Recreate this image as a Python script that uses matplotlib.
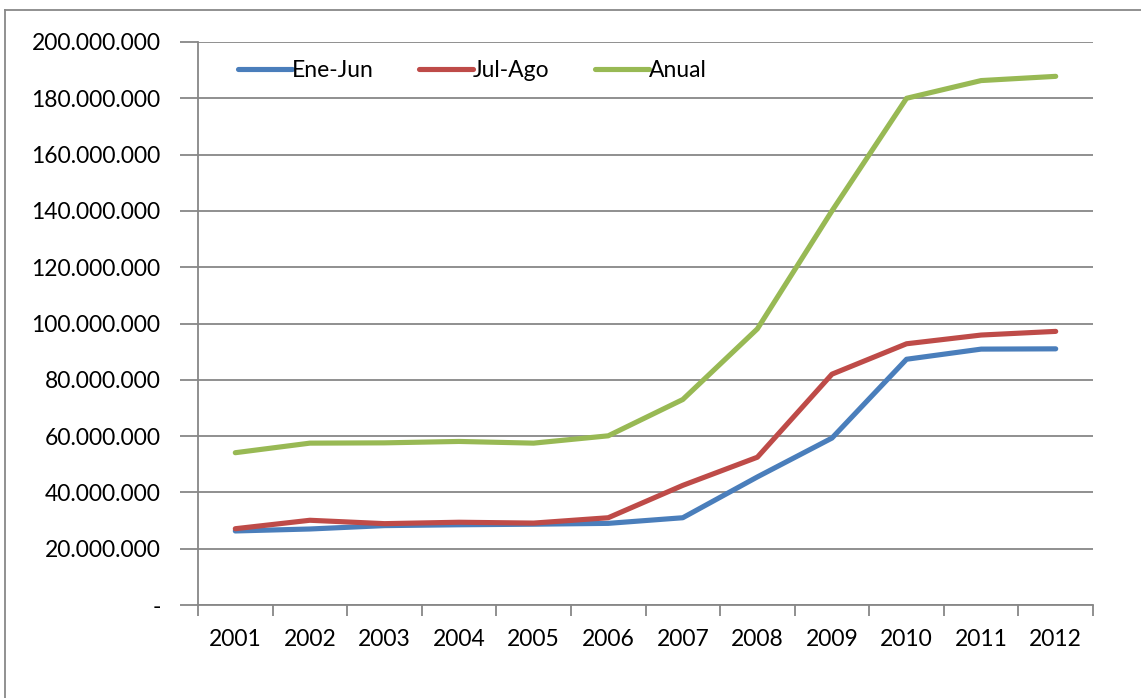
import matplotlib
matplotlib.use("Agg")
import matplotlib.pyplot as plt
from matplotlib.lines import Line2D
from matplotlib.ticker import FuncFormatter, FixedLocator

plt.rcParams['font.family'] = ['Lato', 'DejaVu Sans']

# data
years = ['2001', '2002', '2003', '2004', '2005', '2006',
         '2007', '2008', '2009', '2010', '2011', '2012']
ene_jun = [26.3, 27.0, 28.2, 28.5, 28.7, 29.0, 31.0, 45.5, 59.3, 87.3, 90.9, 91.0]
jul_ago = [27.1, 30.1, 28.9, 29.4, 29.1, 31.0, 42.5, 52.5, 82.0, 92.8, 95.9, 97.2]
anual = [54.1, 57.5, 57.6, 58.1, 57.5, 60.1, 73.0, 98.1, 140.0, 180.0, 186.3, 187.8]
series_names = ['Ene-Jun', 'Jul-Ago', 'Anual']
series_colors = ['#4A7EBB', '#BE4B48', '#98B954']

grid_col = '#878787'
fs = 16.5

fig = plt.figure(figsize=(11.41, 6.98), dpi=100)
ax = fig.add_axes([198 / 1141, 1 - 605 / 698, (1093 - 198) / 1141, (605 - 42) / 698])

x = list(range(len(years)))
for vals, name, col in zip([ene_jun, jul_ago, anual], series_names, series_colors):
    ax.plot(x, [v * 1e6 for v in vals], color=col, lw=3.7, label=name,
            solid_capstyle='round', solid_joinstyle='round', zorder=3)

ax.set_xlim(-0.5, len(years) - 0.5)
ax.set_ylim(0, 200e6)

# y axis: gridlines every 20 million, dot thousands separator
ax.yaxis.set_major_locator(FixedLocator([i * 20e6 for i in range(11)]))
def fmt(v, pos):
    if v == 0:
        return '-'
    return '{:,.0f}'.format(v).replace(',', '.')
ax.yaxis.set_major_formatter(FuncFormatter(fmt))
ax.grid(axis='y', color=grid_col, lw=1.3, zorder=1)
ax.tick_params(axis='y', length=13, width=1.3, color=grid_col, pad=14, labelsize=fs)

# x axis: ticks between categories, labels centered
ax.xaxis.set_major_locator(FixedLocator([i - 0.5 for i in range(len(years) + 1)]))
ax.xaxis.set_minor_locator(FixedLocator(x))
ax.set_xticklabels([], minor=False)
ax.set_xticklabels(years, minor=True)
ax.tick_params(axis='x', which='major', length=8, width=1.3, color=grid_col)
ax.tick_params(axis='x', which='minor', length=0, pad=17, labelsize=fs)

for s in ['top', 'right']:
    ax.spines[s].set_visible(False)
for s in ['left', 'bottom']:
    ax.spines[s].set_color(grid_col)
    ax.spines[s].set_linewidth(1.3)

ax.legend(loc='center left', bbox_to_anchor=(0.0447, 0.950), ncol=3, frameon=False,
          borderpad=0, borderaxespad=0, fontsize=fs, handlelength=2.36,
          handletextpad=0.0, columnspacing=1.96)

# outer chart border (partly cropped in the original)
fig.add_artist(Line2D([5 / 1141, 5 / 1141], [0, 1 - 10 / 698], color='#888888', lw=1.3))
fig.add_artist(Line2D([5 / 1141, 1], [1 - 10 / 698, 1 - 10 / 698], color='#888888', lw=1.3))

fig.savefig('out.png', dpi=100)
